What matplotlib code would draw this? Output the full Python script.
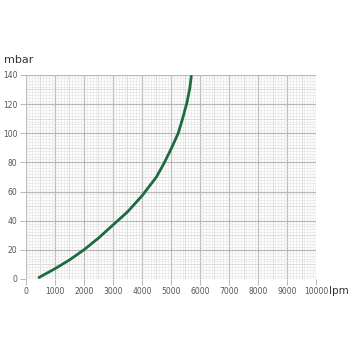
import matplotlib
matplotlib.use('Agg')
import matplotlib.pyplot as plt
from matplotlib.ticker import MultipleLocator

# flow (lpm) vs pressure (mbar)
flow = [450, 1000, 1500, 2000, 2500, 3000, 3500, 4000, 4500, 4750, 5000, 5250, 5400, 5550, 5650, 5700]
pressure = [1, 7, 13, 20, 28, 37, 46, 57, 70, 79, 89, 100, 110, 121, 131, 139]

x_ticks = [0, 1000, 2000, 3000, 4000, 5000, 6000, 7000, 8000, 9000, 10000]
y_ticks = [0, 20, 40, 60, 80, 100, 120, 140]

fig = plt.figure(figsize=(3.5, 3.5), dpi=100)
ax = fig.add_axes([0.074, 0.203, 0.829, 0.583])

ax.set_xlim(0, 10000)
ax.set_ylim(0, 140)
ax.set_xticks(x_ticks)
ax.set_yticks(y_ticks)
ax.xaxis.set_minor_locator(MultipleLocator(100))
ax.yaxis.set_minor_locator(MultipleLocator(2))

# millimetre-paper grid
ax.grid(which='minor', color='#e2e2e2', linewidth=0.4)
ax.grid(which='major', color='#b8b8b8', linewidth=0.9)
for v in range(500, 10000, 1000):
    ax.axvline(v, color='#cdcdcd', linewidth=0.6, zorder=0.5)
for v in range(10, 140, 20):
    ax.axhline(v, color='#cdcdcd', linewidth=0.6, zorder=0.5)
ax.set_axisbelow(True)

for s in ax.spines.values():
    s.set_visible(False)

ax.tick_params(which='major', length=4, width=0.7, color='#b8b8b8',
               labelsize=5.5, labelcolor='#555555', pad=2)
ax.tick_params(which='minor', length=0)

ax.plot(flow, pressure, color='#1d6b3e', linewidth=2.0, solid_capstyle='round', zorder=3)

fig.text(0.012, 0.82, 'mbar', fontsize=8, color='#333333')
fig.text(0.94, 0.16, 'lpm', fontsize=7.5, color='#333333')

fig.savefig('out.png', dpi=100, facecolor='white')
